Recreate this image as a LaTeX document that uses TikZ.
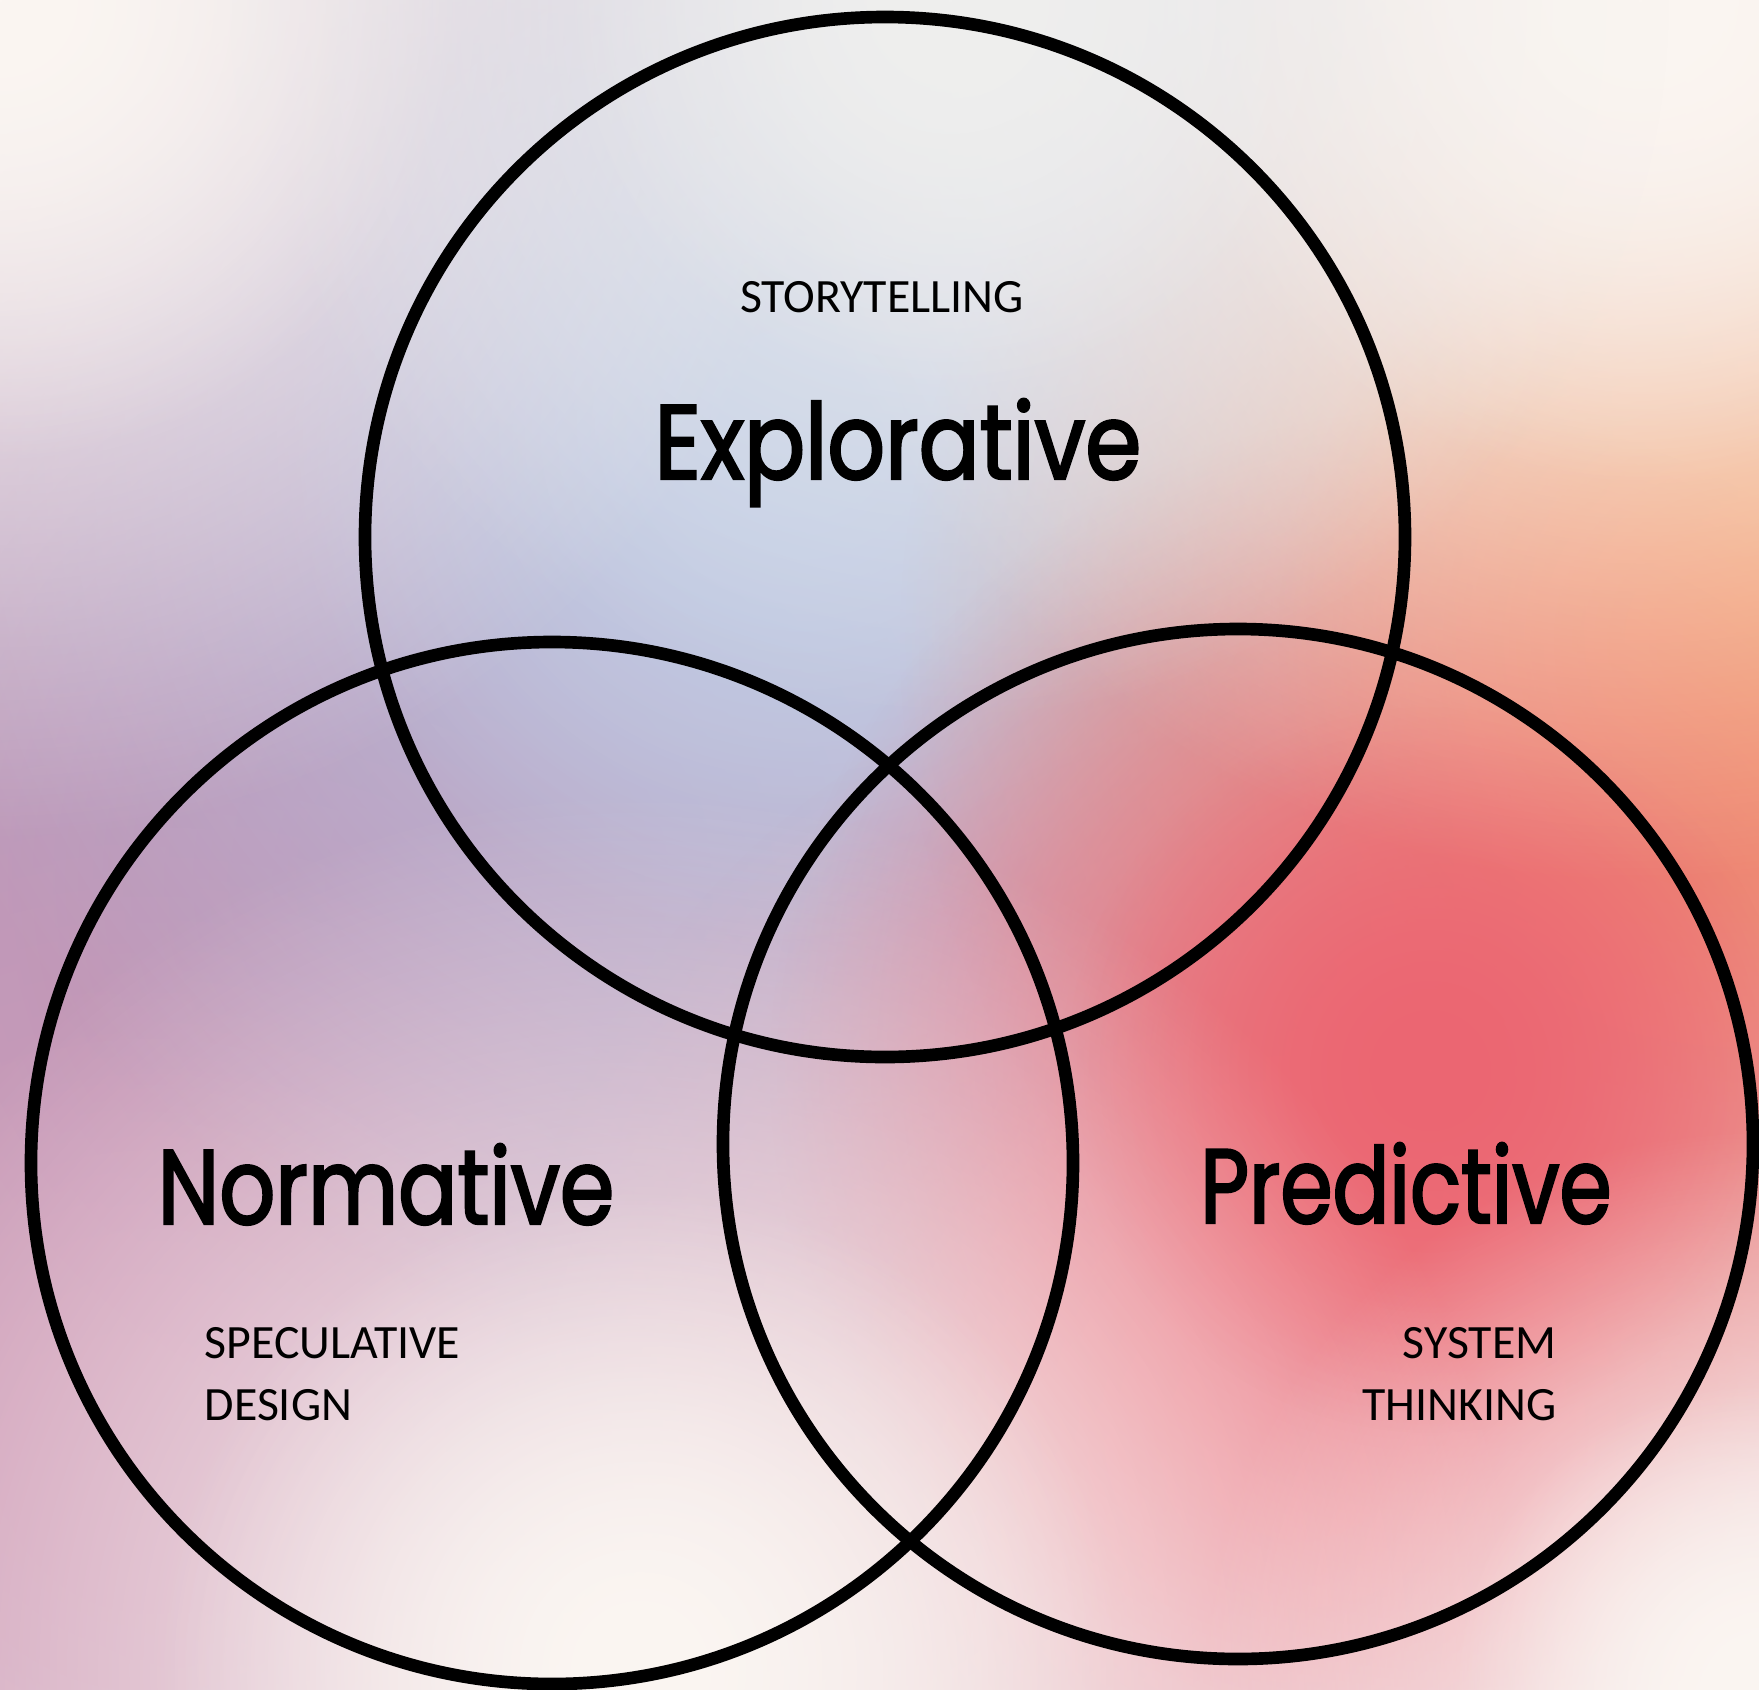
\documentclass[tikz,border=0pt]{standalone}
\usepackage{fontspec}
\setmainfont{Carlito}
\newfontfamily\geofont[FakeStretch=0.83, FakeBold=2.2]{Poppins}
\usetikzlibrary{fadings}
\tikzfading[name=blobfade, inner color=transparent!0, outer color=transparent!100]
\definecolor{bgcream}{HTML}{F8F6F1}
\definecolor{mauve}{HTML}{B28CB2}
\definecolor{pinkmauve}{HTML}{D09CB8}
\definecolor{paleblue}{HTML}{C2CEE6}
\definecolor{peach}{HTML}{F39C68}
\definecolor{coral}{HTML}{EC6672}
\definecolor{rosepink}{HTML}{F0AAB4}
\definecolor{blush}{HTML}{FBF6F2}
\definecolor{mist}{HTML}{EFEFEE}
% soft colour spot (two fades stacked): centre, radius, colour
\newcommand{\blob}[3]{%
  \fill[#3, path fading=blobfade] (#1) circle ({2*#2});
  \fill[#3, path fading=blobfade] (#1) circle ({1.1*#2});}
\begin{document}
\begin{tikzpicture}[x=0.01cm, y=-0.01cm,
  ring/.style={line width=3.6pt, black},
  bigword/.style={font=\geofont\fontsize{30pt}{36pt}\selectfont, anchor=base, inner sep=0pt},
  smallword/.style={font=\fontsize{13.6pt}{16pt}\selectfont, inner sep=0pt}]
  % Fond dégradé
  \useasboundingbox (0,0) rectangle (1759,1690);
  \begin{scope}
    \clip (0,0) rectangle (1759,1690);
    \fill[bgcream] (0,0) rectangle (1759,1690);
    \blob{470,880}{950}{mauve}
    \blob{150,1460}{420}{pinkmauve}
    \blob{800,430}{470}{paleblue}
    \blob{1300,1430}{400}{rosepink}
    \blob{1740,640}{420}{peach}
    \blob{1430,1070}{330}{coral}
    \blob{640,1670}{440}{blush}
    \blob{1760,1690}{280}{blush}
    \blob{0,0}{420}{blush}
    \blob{1640,0}{440}{blush}
    \blob{950,0}{360}{mist}
  \end{scope}
  % Les trois cercles
  \draw[ring] (885,537) circle (520);
  \draw[ring] (552,1163) circle (521);
  \draw[ring] (1238,1144) circle (515);
  % Textes
  \node[smallword, anchor=base] (storytelling) at (882,312) {STORYTELLING};
  \node[bigword] (explorative) at (898,479) {\scalebox{1.03}[1]{Explorative}};
  \node[bigword] (normative) at (386,1224) {Normative};
  \node[bigword] (predictive) at (1406,1223) {\scalebox{0.96}[1]{Predictive}};
  \node[smallword, anchor=base west] (speculative) at (204,1358) {SPECULATIVE};
  \node[smallword, anchor=base west] (design) at (204,1420) {DESIGN};
  \node[smallword, anchor=base east] (system) at (1557,1358) {SYSTEM};
  \node[smallword, anchor=base east] (thinking) at (1557,1420) {THINKING};
\end{tikzpicture}
\end{document}
